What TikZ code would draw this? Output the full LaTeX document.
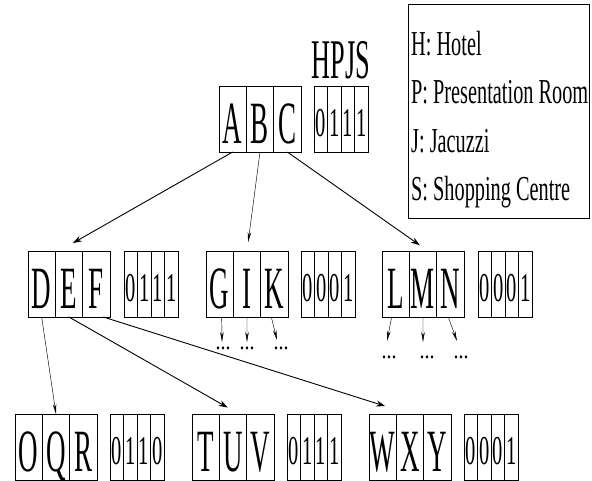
\documentclass[tikz,border=0pt]{standalone}
\usepackage{fontspec}
\usetikzlibrary{arrows.meta}
\newfontfamily\cellfont[FakeStretch=0.45]{Liberation Serif}
\newfontfamily\bitfont[FakeStretch=0.5]{Liberation Serif}
\newfontfamily\headfont[FakeStretch=0.47]{Liberation Serif}
\newfontfamily\legfont[FakeStretch=0.58]{Liberation Serif}
\newfontfamily\dotfont[FakeStretch=0.8]{Liberation Serif}
\tikzset{
  cell/.style={draw=black, line width=0.6pt, minimum width=27.33pt, minimum height=66pt,
    inner sep=0pt, outer sep=0pt, text height=48pt, text depth=0pt,
    font=\cellfont\fontsize{60}{60}\selectfont},
  bitcell/.style={draw=black, line width=0.6pt, minimum width=13.5pt, minimum height=66pt,
    inner sep=0pt, outer sep=0pt, text height=34pt, text depth=0pt,
    font=\bitfont\fontsize{41}{41}\selectfont},
  bigarrow/.style={line width=0.9pt, -{Stealth[length=9pt,width=6pt]}},
  thinarrow/.style={line width=0.45pt, -{Stealth[length=10pt,width=3.5pt]}},
  dots/.style={inner sep=0pt, font=\dotfont\fontsize{25}{25}\selectfont},
  legtext/.style={anchor=base west, inner sep=0pt, font=\legfont\fontsize{35}{35}\selectfont},
}
\newcommand\keyrow[5]{%
  \node[cell,anchor=north west] (#3) at (#1,#2) {#3};
  \node[cell,anchor=west] (#4) at (#3.east) {#4};
  \node[cell,anchor=west] (#5) at (#4.east) {#5};}
\newcommand\bitrow[7]{%
  \node[bitcell,anchor=north west] (#1a) at (#2,#3) {#4};
  \node[bitcell,anchor=west] (#1b) at (#1a.east) {#5};
  \node[bitcell,anchor=west] (#1c) at (#1b.east) {#6};
  \node[bitcell,anchor=west] (#1d) at (#1c.east) {#7};}
\begin{document}
\begin{tikzpicture}[x=1pt,y=-1pt]
\useasboundingbox (0,0) rectangle (592,480);
\clip (0,0) rectangle (592,480);
\fill[white] (0,0) rectangle (592,480);
% legend
\node[draw=black, line width=0.6pt, minimum width=181pt, minimum height=214pt, anchor=north west, inner sep=0pt] (legend) at (408,4) {};
\node[legtext] (l1) at (411,55) {H: Hotel};
\node[legtext] (l2) at (411,103) {P: Presentation Room};
\node[legtext] (l3) at (411,152) {J: Jacuzzi};
\node[legtext] (l4) at (411,200) {S: Shopping Centre};
% top
\node[anchor=base, inner sep=0pt, font=\headfont\fontsize{56}{56}\selectfont] (hpjs) at (341,78) {HPJS};
\keyrow{219}{86}{A}{B}{C}
\bitrow{top}{314}{86}{0}{1}{1}{1}
% middle
\keyrow{28}{251}{D}{E}{F}
\bitrow{def}{124}{251}{0}{1}{1}{1}
\keyrow{206}{251}{G}{I}{K}
\bitrow{gik}{301}{251}{0}{0}{0}{1}
\keyrow{382}{251}{L}{M}{N}
\bitrow{lmn}{478}{251}{0}{0}{0}{1}
% bottom
\keyrow{15}{414}{O}{Q}{R}
\bitrow{oqr}{110}{414}{0}{1}{1}{0}
\keyrow{192}{414}{T}{U}{V}
\bitrow{tuv}{287}{414}{0}{1}{1}{1}
\keyrow{369}{414}{W}{X}{Y}
\bitrow{wxy}{464}{414}{0}{0}{0}{1}
% arrows from root
\draw[bigarrow, shorten >=16pt] (A.south) -- ([xshift=-10pt]E.north);
\draw[thinarrow, shorten >=9pt] (B.south) -- (I.north);
\draw[bigarrow, shorten >=10pt] (C.south) -- ([xshift=5pt]M.north);
% arrows from DEF
\draw[thinarrow] (D.south) -- (Q.north);
\draw[bigarrow, shorten >=13pt] (E.south) -- ([xshift=6pt]U.north);
\draw[bigarrow, shorten >=26pt] ([xshift=7pt]F.south) -- (X.north);
% dangling children
\coordinate (gEnd) at (222,342);
\coordinate (iEnd) at (247,342);
\coordinate (kEnd) at (277,340);
\coordinate (lEnd) at (387,341);
\coordinate (mEnd) at (423,342);
\coordinate (nEnd) at (457,341);
\draw[thinarrow] ([xshift=2pt]G.south) -- (gEnd);
\draw[thinarrow] (I.south) -- (iEnd);
\draw[thinarrow] ([xshift=-3pt]K.south) -- (kEnd);
\draw[thinarrow] ([xshift=-4pt]L.south) -- (lEnd);
\draw[thinarrow] (M.south) -- (mEnd);
\draw[thinarrow] ([xshift=-2pt]N.south) -- (nEnd);
\node[dots] (gd) at (223,348) {...};
\node[dots] (id) at (247,348) {...};
\node[dots] (kd) at (281,348) {...};
\node[dots] (ld) at (389,357) {...};
\node[dots] (md) at (427,357) {...};
\node[dots] (nd) at (461,357) {...};
\end{tikzpicture}
\end{document}
